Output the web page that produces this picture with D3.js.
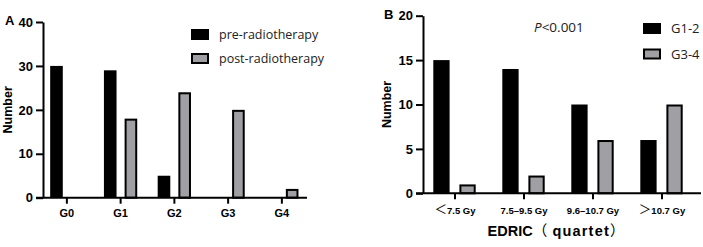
<!DOCTYPE html>
<html>
<head>
<meta charset="utf-8">
<script src="https://cdn.jsdelivr.net/npm/d3@7"></script>
<style>
  body { margin: 0; background: #fff; }
  svg { display: block; }
  .tick text { font-family: "Liberation Sans", Arial, sans-serif; font-weight: bold; }
  .domain, .tick line { stroke: #000; stroke-width: 2; }
</style>
</head>
<body>
<svg id="chart" width="703" height="247"></svg>
<script>
// panel A: toxicity grade before / after radiotherapy
const gradesA = ['G0', 'G1', 'G2', 'G3', 'G4'];
const seriesA = ['pre-radiotherapy', 'post-radiotherapy'];
const preValues = [30, 29, 5, 0, 0];
const postValues = [0, 18, 24, 20, 2];
const ticksA = [0, 10, 20, 30, 40];

// panel B: grade by EDRIC quartet
const quartetsB = ['＜7.5 Gy', '7.5–9.5 Gy', '9.6–10.7 Gy', '＞10.7 Gy'];
const seriesB = ['G1-2', 'G3-4'];
const lowGrade = [15, 14, 10, 6];
const highGrade = [1, 2, 6, 10];
const ticksB = [0, 5, 10, 15, 20];

const fills = ['#000000', '#a0a0a4'];
const svg = d3.select('#chart');

function drawPanel(opts) {
  const g = svg.append('g');
  const x = d3.scaleBand().domain(opts.cats).range(opts.xRange);
  const sub = d3.scaleBand().domain(opts.series).range(opts.subRange).paddingInner(opts.subPad);
  const y = d3.scaleLinear().domain([0, opts.max]).range(opts.yRange);

  // bars
  opts.series.forEach((s, si) => {
    const vals = opts.values[si];
    g.selectAll(null)
      .data(opts.cats.map((c, i) => ({ c, v: vals[i] })).filter(d => d.v > 0))
      .join('rect')
      .attr('x', d => x(d.c) + x.bandwidth() / 2 + sub(s) + (si ? 1 : 0))
      .attr('width', sub.bandwidth() - (si ? 2 : 0))
      .attr('y', d => y(d.v) + (si ? 1 : 0))
      .attr('height', d => y(0) - y(d.v) - (si ? 1 : 0))
      .attr('fill', fills[si])
      .attr('stroke', si ? '#000' : 'none')
      .attr('stroke-width', 2);
  });

  // y axis
  const yAxis = g.append('g')
    .attr('transform', `translate(${opts.yAxisX},0)`)
    .call(d3.axisLeft(y).tickValues(opts.ticks).tickSize(7).tickSizeOuter(0).tickPadding(3));
  yAxis.selectAll('.tick text').attr('font-size', 13).attr('fill', '#000');

  // x axis
  const xAxis = g.append('g')
    .attr('transform', `translate(0,${y(0)})`)
    .call(d3.axisBottom(x).tickSize(6).tickSizeOuter(0).tickPadding(opts.xPad));
  xAxis.select('.domain').attr('d', `M${opts.yAxisX - 7},0H${opts.xEnd}`);
  xAxis.selectAll('.tick text').attr('font-size', opts.xFont).attr('fill', '#000');

  // legend
  opts.series.forEach((s, si) => {
    const ly = opts.legendY + si * opts.legendGap;
    g.append('rect')
      .attr('x', opts.legendX + (si ? 1 : 0)).attr('y', ly + (si ? 1 : 0))
      .attr('width', 18 - (si ? 2 : 0)).attr('height', 11 - (si ? 2 : 0))
      .attr('fill', fills[si])
      .attr('stroke', si ? '#000' : 'none').attr('stroke-width', 2);
    g.append('text')
      .attr('x', opts.legendX + 28).attr('y', ly + 10)
      .attr('font-family', '"Open Sans", sans-serif')
      .attr('font-size', opts.legendFont)
      .attr('fill', '#222')
      .text(s);
  });

  // y title
  g.append('text')
    .attr('transform', `translate(${opts.yTitleX},${(y(0) + y(opts.max)) / 2}) rotate(-90)`)
    .attr('text-anchor', 'middle')
    .attr('font-family', '"Liberation Sans", Arial, sans-serif')
    .attr('font-weight', 'bold').attr('font-size', 12.5)
    .text('Number');

  // panel letter
  g.append('text')
    .attr('x', opts.letterX).attr('y', y(opts.max) + 3)
    .attr('font-family', '"Liberation Sans", Arial, sans-serif')
    .attr('font-weight', 'bold').attr('font-size', 13)
    .text(opts.letter);

  return { g, x, y, xAxis };
}

drawPanel({
  letter: 'A', letterX: 5,
  cats: gradesA, series: seriesA, values: [preValues, postValues],
  max: 40, ticks: ticksA,
  xRange: [40, 308.75], yRange: [197.7, 22],
  subRange: [-16.7, 16.6], subPad: 0.39,
  yAxisX: 43, xEnd: 307, xPad: 6, xFont: 11,
  legendX: 191, legendY: 29, legendGap: 24, legendFont: 12.5,
  yTitleX: 12
});

const pB = drawPanel({
  letter: 'B', letterX: 384,
  cats: quartetsB, series: seriesB, values: [lowGrade, highGrade],
  max: 20, ticks: ticksB,
  xRange: [420.5, 696.5], yRange: [193.3, 15.7],
  subRange: [-21.7, 20.7], subPad: 0.375,
  yAxisX: 423, xEnd: 701, xPad: 8, xFont: 9.5,
  legendX: 643, legendY: 23, legendGap: 25.5, legendFont: 13,
  yTitleX: 391
});

// full-width comparison signs, in a CJK face
pB.xAxis.selectAll('.tick text').each(function (d) {
  const t = d3.select(this);
  const first = d.charAt(0);
  if (first === '＜' || first === '＞') {
    t.text(null);
    t.append('tspan')
      .attr('font-family', '"Noto Sans CJK SC", sans-serif')
      .attr('font-weight', 'normal').attr('font-size', 12.5)
      .text(first);
    t.append('tspan').text(d.slice(1));
  }
});

// P value annotation
const pText = pB.g.append('text')
  .attr('x', 534).attr('y', 32)
  .attr('font-family', '"Open Sans", sans-serif')
  .attr('font-size', 13.5).attr('fill', '#222');
pText.append('tspan').attr('font-style', 'italic').text('P');
pText.append('tspan').text('<0.001');

// x title
const xTitle = pB.g.append('text')
  .attr('x', 556).attr('y', 236)
  .attr('text-anchor', 'middle')
  .attr('font-family', '"Liberation Sans", Arial, sans-serif')
  .attr('font-weight', 'bold').attr('font-size', 14.5)
  .attr('fill', '#000');
xTitle.append('tspan').text('EDRIC');
xTitle.append('tspan')
  .attr('font-family', '"Noto Sans CJK SC", sans-serif')
  .attr('font-weight', 'normal').text('（');
xTitle.append('tspan').attr('letter-spacing', 1.2).text(' quartet');
xTitle.append('tspan')
  .attr('font-family', '"Noto Sans CJK SC", sans-serif')
  .attr('font-weight', 'normal').text('）');
</script>
</body>
</html>
